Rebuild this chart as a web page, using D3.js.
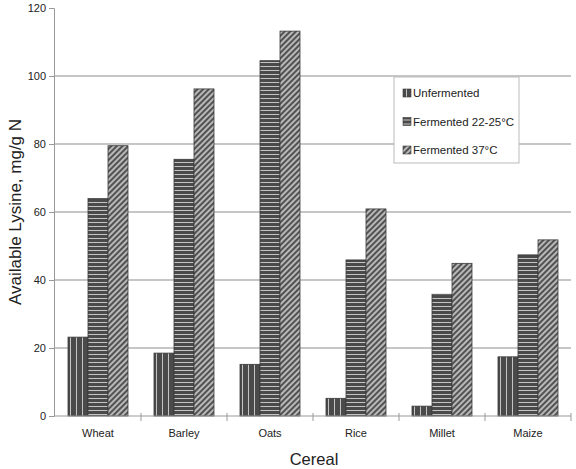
<!DOCTYPE html>
<html>
<head>
<meta charset="utf-8">
<script src="https://cdn.jsdelivr.net/npm/d3@7"></script>
<style>
  body { margin: 0; background: #fff; }
  svg { display: block; font-family: "Liberation Sans", Arial, sans-serif; }
</style>
</head>
<body>
<svg id="chart" width="576" height="469"></svg>
<script>
// data
const cereals = ["Wheat", "Barley", "Oats", "Rice", "Millet", "Maize"];
const seriesNames = ["Unfermented", "Fermented 22-25°C", "Fermented 37°C"];
const unfermented = [23.2, 18.5, 15.2, 5.2, 2.9, 17.4];
const fermented22 = [64.0, 75.5, 104.5, 45.9, 35.8, 47.4];
const fermented37 = [79.5, 96.2, 113.2, 60.9, 44.9, 51.8];
const yTicks = [0, 20, 40, 60, 80, 100, 120];

const seriesValues = [unfermented, fermented22, fermented37];
const patternIds = ["pVert", "pHorz", "pDiag"];
const textColor = "#222";

const svg = d3.select("#chart");
const margin = { left: 55, right: 5, top: 8, bottom: 53 };
const width = 576, height = 469;

// patterns for the bar fills
const defs = svg.append("defs");
const vert = defs.append("pattern").attr("id", "pVert")
  .attr("patternUnits", "userSpaceOnUse").attr("width", 6).attr("height", 6);
vert.append("rect").attr("width", 6).attr("height", 6).attr("fill", "#4a4a4a");
vert.append("rect").attr("x", 3).attr("width", 1).attr("height", 6).attr("fill", "#c4c4c4");

const horz = defs.append("pattern").attr("id", "pHorz")
  .attr("patternUnits", "userSpaceOnUse").attr("width", 6).attr("height", 4);
horz.append("rect").attr("width", 6).attr("height", 4).attr("fill", "#4a4a4a");
horz.append("rect").attr("y", 2).attr("width", 6).attr("height", 1).attr("fill", "#c4c4c4");

const diag = defs.append("pattern").attr("id", "pDiag")
  .attr("patternUnits", "userSpaceOnUse").attr("width", 4).attr("height", 4)
  .attr("patternTransform", "rotate(45)");
diag.append("rect").attr("width", 4).attr("height", 4).attr("fill", "#525252");
diag.append("rect").attr("width", 2).attr("height", 4).attr("fill", "#b8b8b8");

// scales
const x0 = d3.scaleBand().domain(cereals)
  .range([margin.left, width - margin.right]).paddingInner(0).paddingOuter(0);
const x1 = d3.scaleBand().domain(d3.range(seriesNames.length))
  .range([0, x0.bandwidth()]).paddingInner(0).paddingOuter(0.65);
const y = d3.scaleLinear().domain([0, 120]).range([height - margin.bottom, margin.top]);

// gridlines (20..100)
svg.append("g").selectAll("line")
  .data(yTicks.filter(t => t > 0 && t < 120))
  .join("line")
  .attr("x1", margin.left).attr("x2", width - margin.right)
  .attr("y1", d => y(d)).attr("y2", d => y(d))
  .attr("stroke", "#b3b3b3").attr("stroke-width", 1.3);

// bars
const groups = svg.append("g").selectAll("g")
  .data(cereals)
  .join("g")
  .attr("transform", d => `translate(${x0(d)},0)`);

groups.selectAll("rect")
  .data((d, i) => seriesValues.map((vals, s) => ({ s, v: vals[i] })))
  .join("rect")
  .attr("x", d => x1(d.s))
  .attr("width", x1.bandwidth())
  .attr("y", d => y(d.v))
  .attr("height", d => y(0) - y(d.v))
  .attr("fill", d => `url(#${patternIds[d.s]})`)
  .attr("stroke", "#3a3a3a")
  .attr("stroke-width", 0.8);

// y axis
const yAxis = svg.append("g")
  .attr("transform", `translate(${margin.left - 1},0)`)
  .call(d3.axisLeft(y).tickValues(yTicks).tickSize(5).tickPadding(3));
yAxis.select(".domain").attr("stroke", "#999");
yAxis.selectAll(".tick line").attr("stroke", "#999");
yAxis.selectAll(".tick text").attr("font-size", 11).attr("fill", textColor)
  .attr("font-family", "Liberation Sans, Arial, sans-serif");

// x axis with ticks on category boundaries
svg.append("line")
  .attr("x1", margin.left - 1).attr("x2", width - margin.right)
  .attr("y1", y(0)).attr("y2", y(0))
  .attr("stroke", "#999");
svg.append("g").selectAll("line")
  .data(cereals)
  .join("line")
  .attr("x1", d => x0(d) + x0.bandwidth()).attr("x2", d => x0(d) + x0.bandwidth())
  .attr("y1", y(0) - 3).attr("y2", y(0) + 5)
  .attr("stroke", "#999");

svg.append("g").selectAll("text")
  .data(cereals)
  .join("text")
  .attr("x", d => x0(d) + x0.bandwidth() / 2)
  .attr("y", y(0) + 21)
  .attr("text-anchor", "middle")
  .attr("font-size", 11)
  .attr("fill", textColor)
  .text(d => d);

// axis titles
svg.append("text")
  .attr("x", x0.range()[0] + (x0.range()[1] - x0.range()[0]) / 2 + 1)
  .attr("y", 465)
  .attr("text-anchor", "middle")
  .attr("font-size", 16.5)
  .attr("fill", textColor)
  .text("Cereal");

svg.append("text")
  .attr("transform", `translate(21,${(y(0) + y(120)) / 2}) rotate(-90)`)
  .attr("text-anchor", "middle")
  .attr("font-size", 17)
  .attr("fill", textColor)
  .text("Available Lysine, mg/g N");

// legend
const legend = svg.append("g").attr("transform", "translate(394,77)");
legend.append("rect")
  .attr("width", 125).attr("height", 86)
  .attr("fill", "#fff").attr("stroke", "#bbb").attr("stroke-width", 1);
const items = legend.selectAll("g.item")
  .data(seriesNames)
  .join("g")
  .attr("class", "item")
  .attr("transform", (d, i) => `translate(9,${16 + i * 28.5})`);
items.append("rect")
  .attr("y", -4).attr("width", 8).attr("height", 8)
  .attr("fill", (d, i) => `url(#${patternIds[i]})`)
  .attr("stroke", "#3a3a3a").attr("stroke-width", 0.6);
items.append("text")
  .attr("x", 10).attr("y", 4)
  .attr("font-size", 11.5)
  .attr("fill", textColor)
  .text(d => d);
</script>
</body>
</html>
